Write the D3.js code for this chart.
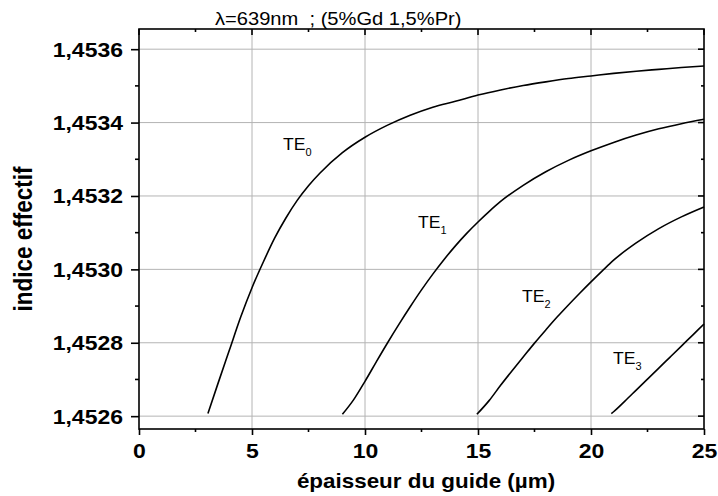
<!DOCTYPE html>
<html><head><meta charset="utf-8">
<script src="https://cdn.jsdelivr.net/npm/d3@7"></script>
<style>
body{margin:0;background:#fff}
text{font-family:Arial,"Liberation Sans",sans-serif;fill:#000}
</style>
</head><body>
<svg id="c" width="718" height="496"></svg>
<script>
// ---- data ----
const xTicks = [0, 5, 10, 15, 20, 25];
const xMinor = [2.5, 7.5, 12.5, 17.5, 22.5];
const yTicks = [1.4526, 1.4528, 1.4530, 1.4532, 1.4534, 1.4536];
const yMinor = [1.4527, 1.4529, 1.4531, 1.4533, 1.4535];

const te0X = [3.05, 3.5, 4.0, 4.5, 5.0, 5.5, 6.0, 6.5, 7.0, 7.5, 8.0, 9.0, 10, 11, 12, 13, 14, 15, 16, 17, 18, 19, 20, 21, 22, 23, 24, 25];
const te0Y = [1.452607, 1.452690, 1.452780, 1.452870, 1.452950, 1.453020, 1.453085, 1.453140, 1.453188, 1.453228, 1.453262, 1.453318, 1.453360, 1.453393, 1.453420, 1.453442, 1.453458, 1.453475, 1.453489, 1.453501, 1.453511, 1.453520, 1.453527, 1.453534, 1.453540, 1.453545, 1.453550, 1.453554];

const te1X = [9.0, 9.5, 10, 10.5, 11, 11.5, 12, 12.5, 13, 13.5, 14, 14.5, 15, 15.5, 16, 17, 18, 19, 20, 21, 22, 23, 24, 25];
const te1Y = [1.452605, 1.452645, 1.452695, 1.452748, 1.452800, 1.452850, 1.452898, 1.452944, 1.452987, 1.453027, 1.453064, 1.453098, 1.453129, 1.453158, 1.453185, 1.453229, 1.453266, 1.453297, 1.453323, 1.453346, 1.453366, 1.453383, 1.453397, 1.453409];

const te2X = [14.95, 15.5, 16, 16.5, 17, 17.5, 18, 18.5, 19, 19.5, 20, 20.5, 21, 22, 23, 24, 25];
const te2Y = [1.452605, 1.452643, 1.452684, 1.452723, 1.452761, 1.452799, 1.452835, 1.452870, 1.452903, 1.452935, 1.452966, 1.452996, 1.453025, 1.453072, 1.453111, 1.453143, 1.453170];

const te3X = [20.9, 21.0, 21.5, 22, 22.5, 23, 23.5, 24, 24.5, 25];
const te3Y = [1.452607, 1.452612, 1.452641, 1.452671, 1.452701, 1.452731, 1.452761, 1.452791, 1.452821, 1.452851];

const modeNames = ["0", "1", "2", "3"];
const labelX = [6.37, 12.35, 16.95, 20.97];
const labelY = [1.453325, 1.453112, 1.452911, 1.452742];

const titleText = "λ=639nm  ; (5%Gd 1,5%Pr)";
const xTitle = "épaisseur du guide (µm)";
const yTitle = "indice effectif";

// ---- chart ----
const svg = d3.select("#c");
const L = 139, R = 704, T = 29, B = 429;
const x = d3.scaleLinear().domain([0, 25]).range([L, R]);
const y = d3.scaleLinear().domain([1.452565, 1.453655]).range([B, T]);
const SX = 1.15;

// grid
svg.append("g").selectAll("line").data(xTicks.filter(d => d > 0 && d < 25)).join("line")
  .attr("x1", d => x(d)).attr("x2", d => x(d)).attr("y1", T).attr("y2", B)
  .attr("stroke", "#b4b4b4").attr("stroke-width", 1);
svg.append("g").selectAll("line").data(yTicks).join("line")
  .attr("x1", L).attr("x2", R).attr("y1", d => y(d)).attr("y2", d => y(d))
  .attr("stroke", "#b4b4b4").attr("stroke-width", 1);

// curves
const series = [[te0X, te0Y], [te1X, te1Y], [te2X, te2Y], [te3X, te3Y]];
const line = d3.line().x(d => x(d[0])).y(d => y(d[1])).curve(d3.curveMonotoneX);
svg.append("g").selectAll("path").data(series).join("path")
  .attr("d", s => line(s[0].map((v, i) => [v, s[1][i]])))
  .attr("fill", "none").attr("stroke", "#000").attr("stroke-width", 1.6);

// frame
svg.append("rect").attr("x", L).attr("y", T).attr("width", R - L).attr("height", B - T)
  .attr("fill", "none").attr("stroke", "#000").attr("stroke-width", 1.6);

// bottom axis
const xAxis = svg.append("g").attr("transform", `translate(0,${B})`)
  .call(d3.axisBottom(x).tickValues(xTicks).tickSize(6).tickFormat(d3.format("d")));
xAxis.select(".domain").remove();
xAxis.selectAll(".tick line").attr("stroke-width", 1.6);
xAxis.selectAll(".tick text").attr("y", 0).attr("dy", 0)
  .attr("transform", `translate(0,29) scale(${SX},1)`)
  .style("font-size", "20px").style("font-weight", "bold").attr("font-family", null);
svg.append("g").selectAll("line").data(xMinor).join("line")
  .attr("x1", d => x(d)).attr("x2", d => x(d)).attr("y1", B).attr("y2", B + 3)
  .attr("stroke", "#000").attr("stroke-width", 1.6);

// top ticks (inward)
svg.append("g").selectAll("line").data(xTicks.concat(xMinor)).join("line")
  .attr("x1", d => x(d)).attr("x2", d => x(d)).attr("y1", T)
  .attr("y2", d => T + (xTicks.includes(d) ? 6 : 3))
  .attr("stroke", "#000").attr("stroke-width", 1.6);

// left axis
const yAxis = svg.append("g").attr("transform", `translate(${L},0)`)
  .call(d3.axisLeft(y).tickValues(yTicks).tickSize(8).tickFormat(d => d3.format(".4f")(d).replace(".", ",")));
yAxis.select(".domain").remove();
yAxis.selectAll(".tick line").attr("stroke-width", 1.6);
yAxis.selectAll(".tick text").attr("x", 0).attr("dy", "0.35em")
  .attr("transform", `translate(-16,0) scale(${SX},1)`)
  .style("font-size", "20px").style("font-weight", "bold").attr("font-family", null);
svg.append("g").selectAll("line").data(yMinor).join("line")
  .attr("x1", L - 4).attr("x2", L).attr("y1", d => y(d)).attr("y2", d => y(d))
  .attr("stroke", "#000").attr("stroke-width", 1.6);

// right ticks (inward)
svg.append("g").selectAll("line").data(yTicks.concat(yMinor)).join("line")
  .attr("x1", d => R - (yTicks.includes(d) ? 6 : 3)).attr("x2", R).attr("y1", d => y(d)).attr("y2", d => y(d))
  .attr("stroke", "#000").attr("stroke-width", 1.6);

// mode labels
const lab = svg.append("g").selectAll("text").data(modeNames).join("text")
  .attr("transform", (d, i) => `translate(${x(labelX[i])},${y(labelY[i])}) scale(1.1,1)`)
  .style("font-size", "16px");
lab.append("tspan").text("TE");
lab.append("tspan").attr("dy", 6).style("font-size", "10px").text(d => d);

// titles
svg.append("text").attr("transform", `translate(215,25) scale(${SX},1)`)
  .style("font-size", "17.5px").style("white-space", "pre").text(titleText);
svg.append("text").attr("transform", `translate(426,488) scale(${SX},1)`)
  .attr("text-anchor", "middle").style("font-size", "19.5px").style("font-weight", "bold").text(xTitle);
svg.append("text").attr("transform", `translate(32,239) scale(${SX},1) rotate(-90)`)
  .attr("text-anchor", "middle").style("font-size", "22.5px").style("font-weight", "bold").text(yTitle);
</script>
</body></html>
